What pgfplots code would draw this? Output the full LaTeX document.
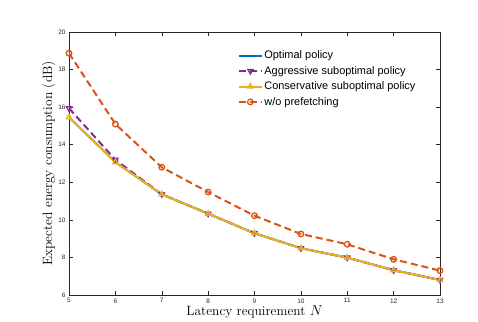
\documentclass[border=0pt]{standalone}
\usepackage{pgfplots}
\pgfplotsset{compat=1.18}
\usepackage{fontspec}
\setsansfont{Liberation Sans}

\definecolor{mblue}{rgb}{0,0.447,0.741}
\definecolor{mpurple}{rgb}{0.494,0.184,0.556}
\definecolor{myellow}{rgb}{0.929,0.694,0.125}
\definecolor{morange}{rgb}{0.85,0.325,0.098}
\definecolor{axgray}{rgb}{0.15,0.15,0.15}

\begin{document}
\begin{tikzpicture}
\begin{axis}[
    scale only axis,
    width=371bp, height=263bp,
    xmin=5, xmax=13, ymin=6, ymax=20,
    xtick={5,6,...,13},
    ytick={6,8,...,20},
    tick align=inside,
    major tick length=4bp,
    axis line style={axgray, line width=0.6pt},
    tick style={axgray, line width=0.5pt},
    /pgf/number format/assume math mode=true,
    tick label style={font=\sffamily\fontsize{6.5}{7}\selectfont, text=axgray},
    xlabel={Latency requirement $N$},
    ylabel={Expected energy consumption (dB)},
    label style={font=\fontsize{13.5}{15}\selectfont},
    xlabel style={yshift=4bp},
    ylabel style={yshift=-4bp},
    legend style={font=\sffamily\fontsize{11}{12.5}\selectfont, draw=none, fill=none,
                  cells={anchor=west}, at={(0.452,0.94)}, anchor=north west,
                  row sep=2pt, inner sep=1pt,
                  nodes={inner xsep=1.5pt}},
    legend image code/.code={
      \draw[mark repeat=2, mark phase=2] plot coordinates {(0bp,0bp) (11.5bp,0bp) (23bp,0bp)};},
  ]

\addplot[mblue, line width=2pt] coordinates {
  (5,15.46) (6,13.07) (7,11.36) (8,10.33) (9,9.29)
  (10,8.49) (11,7.99) (12,7.32) (13,6.80)};
\addlegendentry{Optimal policy}

\addplot[mpurple, line width=2pt, dash pattern=on 7pt off 4pt,
         mark=triangle, mark size=3pt, mark options={solid, rotate=180, line width=1.3pt}] coordinates {
  (5,15.94) (6,13.20) (7,11.36) (8,10.33) (9,9.29)
  (10,8.49) (11,7.99) (12,7.32) (13,6.80)};
\addlegendentry{Aggressive suboptimal policy}

\addplot[myellow, line width=2pt, mark=triangle, mark size=3pt,
         mark options={solid, line width=1.3pt}] coordinates {
  (5,15.46) (6,13.07) (7,11.36) (8,10.33) (9,9.29)
  (10,8.49) (11,7.99) (12,7.32) (13,6.80)};
\addlegendentry{Conservative suboptimal policy}

\addplot[morange, line width=2pt, dash pattern=on 7pt off 4pt,
         mark=o, mark size=2.8pt, mark options={solid, line width=1.3pt}] coordinates {
  (5,18.87) (6,15.10) (7,12.80) (8,11.48) (9,10.22)
  (10,9.25) (11,8.70) (12,7.90) (13,7.30)};
\addlegendentry{w/o prefetching}

\end{axis}
\pgfresetboundingbox
\path (-69bp,-27bp) rectangle (409bp,295bp);
\end{tikzpicture}
\end{document}
